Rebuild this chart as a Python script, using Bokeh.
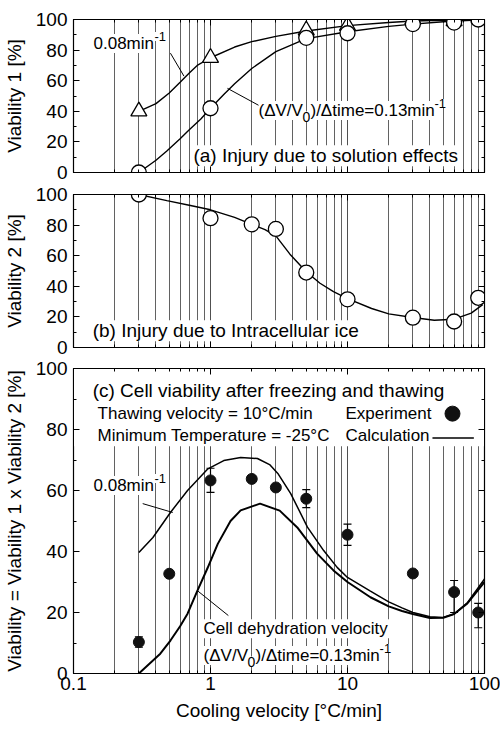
from bokeh.plotting import figure
from bokeh.layouts import column
from bokeh.models import (LogAxis, LinearAxis, Range1d, Label, Whisker, TeeHead,
                          ColumnDataSource, BoxAnnotation, LogTicker,
                          SingleIntervalTicker, CustomJSTickFormatter)
from bokeh.embed import file_html
from bokeh.resources import INLINE

FONT = "Liberation Sans"

# ---------------- data ----------------
# (a) Viability 1 : injury due to solution effects
a_tri_x = [0.3, 1, 5, 10, 30, 60, 98]          # 0.08 min^-1
a_tri_y = [40, 75, 93, 96, 100, 99, 100]
a_circ_x = [0.3, 1, 5, 10, 30, 60, 90]         # 0.13 min^-1
a_circ_y = [0, 42, 88, 91, 97, 98, 100]
a_c08_x = [0.3, 0.4, 0.5, 0.6, 0.7, 0.8, 1, 1.5, 2, 3, 5, 10, 20, 30, 50, 100]
a_c08_y = [40, 45, 52, 59, 65, 70, 75, 82, 85.5, 89, 92.5, 96, 98, 99, 99.5, 100]
a_c13_x = [0.3, 0.4, 0.48, 0.6, 0.7, 0.85, 1, 1.25, 1.5, 2, 3, 5, 10, 20, 30, 50, 100]
a_c13_y = [0, 8, 14, 22, 28, 35, 42, 51, 58, 68, 79, 87.5, 92, 95.5, 97, 98.5, 100]

# (b) Viability 2 : injury due to intracellular ice
b_x = [0.3, 1, 2, 3, 5, 10, 30, 60, 90]
b_y = [100, 84.5, 80.5, 77.5, 49, 31.5, 19.5, 17, 32.5]
b_cx = [0.3, 0.48, 0.7, 1, 1.5, 2, 2.5, 3, 3.8, 5, 6.3, 7.9, 10, 15, 20, 30, 43, 60, 80, 97]
b_cy = [100, 96, 93, 90, 85, 80.5, 77, 73, 61, 49.5, 42, 36.5, 32, 25.5, 22, 19.6, 17.8, 18.5, 22.5, 28]

# (c) Viability = Viability 1 x Viability 2
c_exp_x = [0.3, 0.5, 1, 2, 3, 5, 10, 30, 60, 90]
c_exp_y = [10.3, 32.7, 63.3, 63.8, 61, 57.3, 45.5, 32.8, 26.7, 20]
c_err_x = [0.3, 1, 5, 10, 60, 90]
c_err_lo = [8.6, 59.4, 54.4, 42, 20, 15]
c_err_hi = [12, 67.3, 60.3, 49, 30.5, 23]
c_c08_x = [0.3, 0.38, 0.51, 0.68, 0.95, 1.25, 1.66, 2.2, 2.7, 3.1, 3.85, 5.1, 6.7, 8.4,
           10, 14.7, 20, 25, 30, 40, 50, 60, 75, 100]
c_c08_y = [39.7, 44.6, 52.8, 60, 67, 69.8, 70.8, 70.5, 68.5, 65.6, 59, 48, 40.3, 34.8,
           31.5, 27, 23.5, 21.5, 20, 18.6, 18.4, 19.5, 23.2, 31]
c_c13_x = [0.3, 0.43, 0.51, 0.6, 0.68, 0.8, 0.95, 1.13, 1.4, 1.66, 2.3, 3.2, 4.3, 6.0,
           7.9, 10, 14.7, 20, 25, 30, 40, 50, 60, 75, 100]
c_c13_y = [0, 6.5, 10.8, 15.5, 19.6, 27, 34.5, 42.5, 50, 53.5, 55.7, 53.4, 47.9, 39.3,
           33.8, 30, 25, 22, 20.5, 19.5, 18.2, 18.3, 19.5, 23, 30]


def style_axis(ax, labels):
    ax.major_tick_in = 6
    ax.major_tick_out = 0
    ax.minor_tick_in = 3
    ax.minor_tick_out = 0
    ax.axis_line_color = "black"
    ax.major_tick_line_color = "black"
    ax.minor_tick_line_color = "black"
    ax.major_label_text_font = FONT
    ax.major_label_text_color = "black"
    ax.axis_label_text_font = FONT
    ax.axis_label_text_font_style = "normal"
    ax.axis_label_text_color = "black"
    if labels:
        ax.major_label_text_font_size = "19px"
        ax.axis_label_text_font_size = "19px"
    else:
        ax.major_label_text_font_size = "1px"
        ax.major_label_text_alpha = 0
        ax.major_label_standoff = 0


def make_fig(frame_h, top, bottom, ylabel, xlabels):
    p = figure(x_axis_type="log", x_range=Range1d(0.1, 100), y_range=Range1d(0, 100),
               frame_width=411, frame_height=frame_h,
               min_border_left=73, min_border_right=16,
               min_border_top=top, min_border_bottom=bottom,
               output_backend="svg", toolbar_location=None)
    p.background_fill_color = "white"
    p.border_fill_color = "white"
    p.outline_line_color = "black"
    p.outline_line_width = 1.2
    p.ygrid.visible = False
    p.xgrid.ticker = LogTicker(num_minor_ticks=10)
    p.xgrid.grid_line_color = "#505050"
    p.xgrid.grid_line_width = 0.9
    p.xgrid.minor_grid_line_color = "#505050"
    p.xgrid.minor_grid_line_width = 0.9
    bottom_ax = p.below[0]
    left_ax = p.left[0]
    bottom_ax.ticker = LogTicker(num_minor_ticks=10)
    bottom_ax.formatter = CustomJSTickFormatter(code="return tick.toString()")
    left_ax.ticker = SingleIntervalTicker(interval=20, num_minor_ticks=2)
    top_ax = LogAxis(ticker=LogTicker(num_minor_ticks=10))
    right_ax = LinearAxis(ticker=SingleIntervalTicker(interval=20, num_minor_ticks=2))
    p.add_layout(top_ax, "above")
    p.add_layout(right_ax, "right")
    style_axis(bottom_ax, xlabels)
    if xlabels:
        bottom_ax.axis_label = "Cooling velocity [°C/min]"
        bottom_ax.major_label_standoff = 3
        bottom_ax.axis_label_standoff = 7
    style_axis(left_ax, True)
    left_ax.axis_label = ylabel
    left_ax.major_label_standoff = 6
    left_ax.axis_label_standoff = 8
    style_axis(top_ax, False)
    style_axis(right_ax, False)
    return p


def lab(p, x, y, text, size="17px", xo=0, yo=0):
    p.add_layout(Label(x=x, y=y, text=text, x_offset=xo, y_offset=yo,
                       text_font=FONT, text_font_size=size, text_color="black",
                       text_baseline="middle", text_align="left",
                       background_fill_color="white"))


def dv_label(p, x, y):
    # (ΔV/V0)/Δtime=0.13min^-1 assembled from pieces
    lab(p, x, y, "(ΔV/V")
    lab(p, x, y, "0", size="14px", xo=44, yo=-6)
    lab(p, x, y, ")/Δtime=0.13min", xo=52)
    lab(p, x, y, "-1", size="13px", xo=176, yo=7)


# ---------------- panel (a) ----------------
pa = make_fig(153, 19, 11, "Viability 1 [%]", False)
pa.line(a_c08_x, a_c08_y, line_color="black", line_width=1.4)
pa.line(a_c13_x, a_c13_y, line_color="black", line_width=1.4)
pa.scatter(a_tri_x, a_tri_y, marker="triangle", size=16, fill_color="white",
           line_color="black", line_width=1.3)
pa.scatter(a_circ_x, a_circ_y, marker="circle", size=15, fill_color="white",
           line_color="black", line_width=1.3)
pa.segment(x0=[0.51, 1.33], y0=[78, 55], x1=[0.64, 2.4], y1=[63, 42.5],
           line_color="black", line_width=1)
lab(pa, 0.14, 84.3, "0.08min")
lab(pa, 0.14, 84.3, "-1", size="13px", xo=61, yo=7)
dv_label(pa, 2.24, 40.5)
lab(pa, 0.75, 11, "(a) Injury due to solution effects", size="19px")

# ---------------- panel (b) ----------------
pb = make_fig(153, 11, 10, "Viability 2 [%]", False)
pb.line(b_cx, b_cy, line_color="black", line_width=1.4)
pb.scatter(b_x, b_y, marker="circle", size=15, fill_color="white",
           line_color="black", line_width=1.3)
lab(pb, 0.138, 11, "(b) Injury due to Intracellular ice", size="19px")

# ---------------- panel (c) ----------------
pc = make_fig(305, 11, 56, "Viability = Viability 1 x Viability 2 [%]", True)
pc.add_layout(BoxAnnotation(bottom=74.5, fill_color="white", fill_alpha=1.0,
                            line_color=None, level="underlay"))
pc.line(c_c08_x, c_c08_y, line_color="black", line_width=1.5)
pc.line(c_c13_x, c_c13_y, line_color="black", line_width=2.0)
err_src = ColumnDataSource(dict(x=c_err_x, lo=c_err_lo, hi=c_err_hi))
pc.add_layout(Whisker(base="x", lower="lo", upper="hi", source=err_src,
                      line_color="black", line_width=1.2,
                      upper_head=TeeHead(size=8, line_color="black", line_width=1.2),
                      lower_head=TeeHead(size=8, line_color="black", line_width=1.2)))
pc.scatter(c_exp_x, c_exp_y, marker="circle", size=11, fill_color="#111111",
           line_color="#111111")
pc.segment(x0=[0.32, 0.8], y0=[55.7, 27.2], x1=[0.53, 1.35], y1=[52.8, 19],
           line_color="black", line_width=1)
lab(pc, 0.138, 92.8, "(c) Cell viability after freezing and thawing", size="19px")
lab(pc, 0.15, 85.2, "Thawing velocity = 10°C/min")
lab(pc, 0.15, 78, "Minimum Temperature = -25°C")
lab(pc, 9.66, 85.2, "Experiment")
lab(pc, 9.66, 78, "Calculation")
# legend keys (drawn by hand, glyph to the right of the text)
pc.scatter([58.4], [85.2], marker="circle", size=15, fill_color="#111111",
           line_color="#111111")
pc.line([41.7, 83.6], [77.2, 77.2], line_color="black", line_width=1.5)
lab(pc, 0.14, 61.6, "0.08min")
lab(pc, 0.14, 61.6, "-1", size="13px", xo=61, yo=7)
lab(pc, 0.89, 14.7, "Cell dehydration  velocity")
dv_label(pc, 0.89, 5.9)

layout = column(pa, pb, pc, spacing=0)
open("out.html", "w").write(file_html(layout, INLINE))
